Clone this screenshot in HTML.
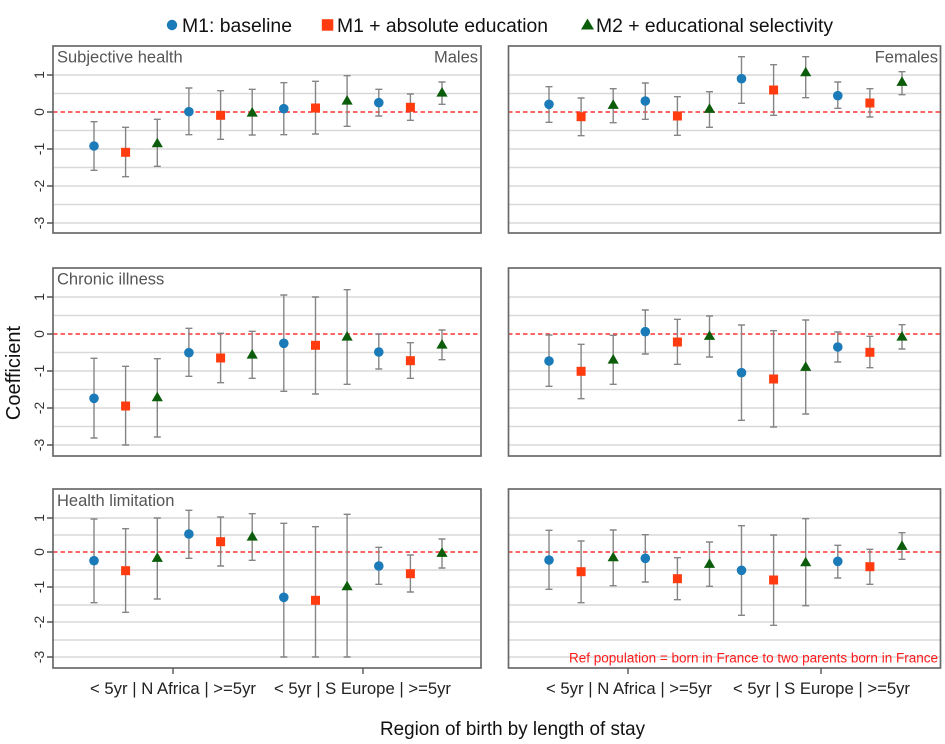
<!DOCTYPE html>
<html><head><meta charset="utf-8"><style>
html,body{margin:0;padding:0;background:#fff;}
svg{display:block;font-family:"Liberation Sans",Arial,sans-serif;}
</style></head><body>
<svg width="945" height="744" viewBox="0 0 945 744" xmlns="http://www.w3.org/2000/svg">
<rect width="945" height="744" fill="#fff"/>

<!-- Legend -->
<circle cx="172" cy="25" r="5.2" fill="#1b7bb8"/>
<text x="182" y="32" font-size="19" fill="#111" textLength="110" lengthAdjust="spacingAndGlyphs">M1: baseline</text>
<rect x="321.8" y="19.2" width="11.5" height="11.5" fill="#ff3b0f"/>
<text x="337" y="32" font-size="19" fill="#111" textLength="211" lengthAdjust="spacingAndGlyphs">M1 + absolute education</text>
<path d="M587.5 18.5l6.5 11h-13z" fill="#0b5d0b"/>
<text x="596" y="32" font-size="19" fill="#111" textLength="237" lengthAdjust="spacingAndGlyphs">M2 + educational selectivity</text>

<!-- Gridlines -->
<g stroke="#d9d9d9" stroke-width="1.4" fill="none">
<path d="M53 75H481M53 93.5H481M53 130.5H481M53 149H481M53 167.5H481M53 186H481M53 204.5H481M53 223H481"/>
<path d="M508 75H941M508 93.5H941M508 130.5H941M508 149H941M508 167.5H941M508 186H941M508 204.5H941M508 223H941"/>
<path d="M53 297H481M53 315.5H481M53 352.5H481M53 371H481M53 389.5H481M53 408H481M53 426.5H481M53 445H481"/>
<path d="M508 297H941M508 315.5H941M508 352.5H941M508 371H941M508 389.5H941M508 408H941M508 426.5H941M508 445H941"/>
<path d="M53 518H481M53 535H481M53 570H481M53 587H481M53 605H481M53 622H481M53 640H481M53 657H481"/>
<path d="M508 518H941M508 535H941M508 570H941M508 587H941M508 605H941M508 622H941M508 640H941M508 657H941"/>
</g>

<!-- Reference lines -->
<g stroke="#ff3333" stroke-width="1.6" stroke-dasharray="4.5,3" fill="none">
<path d="M53 112H481M508 112H941M53 334H481M508 334H941M53 552H481M508 552H941"/>
</g>

<!-- Error bars -->
<g stroke="#858585" stroke-width="1.4" fill="none">
<path d="M94 121.7V170.3M90.5 121.7h7M90.5 170.3h7M125.6 127.3V176.7M122.1 127.3h7M122.1 176.7h7M157.3 119.3V166.3M153.8 119.3h7M153.8 166.3h7M188.9 88V134.7M185.4 88h7M185.4 134.7h7M220.6 90.7V139.3M217.1 90.7h7M217.1 139.3h7M252.2 89.3V135M248.7 89.3h7M248.7 135h7M283.8 82.7V134.7M280.3 82.7h7M280.3 134.7h7M315.5 81.3V134M312 81.3h7M312 134h7M347.1 75.7V126.3M343.6 75.7h7M343.6 126.3h7M378.8 89.3V116M375.3 89.3h7M375.3 116h7M410.4 94V120.3M406.9 94h7M406.9 120.3h7M442 82V104.3M438.5 82h7M438.5 104.3h7"/>
<path d="M549 86.7V122.3M545.5 86.7h7M545.5 122.3h7M581.1 98V135.7M577.6 98h7M577.6 135.7h7M613.2 88.7V122.7M609.7 88.7h7M609.7 122.7h7M645.3 83V119.3M641.8 83h7M641.8 119.3h7M677.4 96.7V135.3M673.9 96.7h7M673.9 135.3h7M709.5 91.7V127.3M706 91.7h7M706 127.3h7M741.5 56.7V103.3M738 56.7h7M738 103.3h7M773.6 64.7V115.3M770.1 64.7h7M770.1 115.3h7M805.7 56.7V97.7M802.2 56.7h7M802.2 97.7h7M837.8 82V108.3M834.3 82h7M834.3 108.3h7M869.9 88.7V117M866.4 88.7h7M866.4 117h7M902 71.7V94.7M898.5 71.7h7M898.5 94.7h7"/>
<path d="M94 358.3V438M90.5 358.3h7M90.5 438h7M125.6 366.3V445M122.1 366.3h7M122.1 445h7M157.3 358.7V437M153.8 358.7h7M153.8 437h7M188.9 328.3V376.3M185.4 328.3h7M185.4 376.3h7M220.6 333.3V382.7M217.1 333.3h7M217.1 382.7h7M252.2 331.3V378.3M248.7 331.3h7M248.7 378.3h7M283.8 295V391.3M280.3 295h7M280.3 391.3h7M315.5 297V394M312 297h7M312 394h7M347.1 289.7V384.3M343.6 289.7h7M343.6 384.3h7M378.8 334V369M375.3 334h7M375.3 369h7M410.4 342.7V378.3M406.9 342.7h7M406.9 378.3h7M442 330V359.7M438.5 330h7M438.5 359.7h7"/>
<path d="M549 335V386.3M545.5 335h7M545.5 386.3h7M581.1 344.3V398.7M577.6 344.3h7M577.6 398.7h7M613.2 335.3V384.3M609.7 335.3h7M609.7 384.3h7M645.3 310V354M641.8 310h7M641.8 354h7M677.4 319.3V364.3M673.9 319.3h7M673.9 364.3h7M709.5 316V357M706 316h7M706 357h7M741.5 325V420.3M738 325h7M738 420.3h7M773.6 330.7V427M770.1 330.7h7M770.1 427h7M805.7 320V414M802.2 320h7M802.2 414h7M837.8 332V362M834.3 332h7M834.3 362h7M869.9 336.3V367.7M866.4 336.3h7M866.4 367.7h7M902 324.7V349M898.5 324.7h7M898.5 349h7"/>
<path d="M94 519V602.7M90.5 519h7M90.5 602.7h7M125.6 528.7V612.3M122.1 528.7h7M122.1 612.3h7M157.3 518V599M153.8 518h7M153.8 599h7M188.9 510.3V558.3M185.4 510.3h7M185.4 558.3h7M220.6 517V566M217.1 517h7M217.1 566h7M252.2 513.7V560.3M248.7 513.7h7M248.7 560.3h7M283.8 523.3V657M280.3 523.3h7M280.3 657h7M315.5 526.7V657M312 526.7h7M312 657h7M347.1 514.3V657M343.6 514.3h7M343.6 657h7M378.8 547.3V584.3M375.3 547.3h7M375.3 584.3h7M410.4 555V592M406.9 555h7M406.9 592h7M442 539V568M438.5 539h7M438.5 568h7"/>
<path d="M549 530.3V589.3M545.5 530.3h7M545.5 589.3h7M581.1 541V602.7M577.6 541h7M577.6 602.7h7M613.2 530V585.7M609.7 530h7M609.7 585.7h7M645.3 534.7V582M641.8 534.7h7M641.8 582h7M677.4 557.7V599.7M673.9 557.7h7M673.9 599.7h7M709.5 542V586.3M706 542h7M706 586.3h7M741.5 525.7V615.3M738 525.7h7M738 615.3h7M773.6 535V625.3M770.1 535h7M770.1 625.3h7M805.7 518.7V605.7M802.2 518.7h7M802.2 605.7h7M837.8 545.3V578M834.3 545.3h7M834.3 578h7M869.9 549.3V584.3M866.4 549.3h7M866.4 584.3h7M902 532.7V559.3M898.5 532.7h7M898.5 559.3h7"/>
</g>

<!-- Blue circles -->
<g fill="#1b7bb8">
<circle cx="94" cy="146" r="4.8"/><circle cx="188.9" cy="111.7" r="4.8"/><circle cx="283.8" cy="108.7" r="4.8"/><circle cx="378.8" cy="102.7" r="4.8"/>
<circle cx="549" cy="104.3" r="4.8"/><circle cx="645.3" cy="101" r="4.8"/><circle cx="741.5" cy="78.7" r="4.8"/><circle cx="837.8" cy="95.7" r="4.8"/>
<circle cx="94" cy="398.3" r="4.8"/><circle cx="188.9" cy="352.7" r="4.8"/><circle cx="283.8" cy="343.3" r="4.8"/><circle cx="378.8" cy="352" r="4.8"/>
<circle cx="549" cy="361" r="4.8"/><circle cx="645.3" cy="331.7" r="4.8"/><circle cx="741.5" cy="372.7" r="4.8"/><circle cx="837.8" cy="347" r="4.8"/>
<circle cx="94" cy="560.7" r="4.8"/><circle cx="188.9" cy="534" r="4.8"/><circle cx="283.8" cy="597.3" r="4.8"/><circle cx="378.8" cy="566" r="4.8"/>
<circle cx="549" cy="560" r="4.8"/><circle cx="645.3" cy="558.3" r="4.8"/><circle cx="741.5" cy="570.3" r="4.8"/><circle cx="837.8" cy="561.3" r="4.8"/>
</g>

<!-- Red squares -->
<g fill="#ff3b0f">
<rect x="121.1" y="147.8" width="9" height="9"/><rect x="216.1" y="110.8" width="9" height="9"/><rect x="311" y="103.5" width="9" height="9"/><rect x="405.9" y="102.8" width="9" height="9"/>
<rect x="576.6" y="112.2" width="9" height="9"/><rect x="672.9" y="111.5" width="9" height="9"/><rect x="769.1" y="85.5" width="9" height="9"/><rect x="865.4" y="98.5" width="9" height="9"/>
<rect x="121.1" y="401.5" width="9" height="9"/><rect x="216.1" y="353.5" width="9" height="9"/><rect x="311" y="340.8" width="9" height="9"/><rect x="405.9" y="356.2" width="9" height="9"/>
<rect x="576.6" y="366.8" width="9" height="9"/><rect x="672.9" y="337.5" width="9" height="9"/><rect x="769.1" y="374.5" width="9" height="9"/><rect x="865.4" y="347.8" width="9" height="9"/>
<rect x="121.1" y="566.2" width="9" height="9"/><rect x="216.1" y="537.2" width="9" height="9"/><rect x="311" y="595.8" width="9" height="9"/><rect x="405.9" y="569.2" width="9" height="9"/>
<rect x="576.6" y="567.2" width="9" height="9"/><rect x="672.9" y="574.2" width="9" height="9"/><rect x="769.1" y="575.5" width="9" height="9"/><rect x="865.4" y="562.2" width="9" height="9"/>
</g>

<!-- Green triangles -->
<g fill="#0b5d0b">
<path d="M157.3 137.7l5.6 9.6h-11.2zM252.2 107l5.6 9.6h-11.2zM347.1 95l5.6 9.6h-11.2zM442 87l5.6 9.6h-11.2z"/>
<path d="M613.2 99.3l5.6 9.6h-11.2zM709.5 103.3l5.6 9.6h-11.2zM805.7 66.7l5.6 9.6h-11.2zM902 76.3l5.6 9.6h-11.2z"/>
<path d="M157.3 391.7l5.6 9.6h-11.2zM252.2 349l5.6 9.6h-11.2zM347.1 331l5.6 9.6h-11.2zM442 339l5.6 9.6h-11.2z"/>
<path d="M613.2 354l5.6 9.6h-11.2zM709.5 330.3l5.6 9.6h-11.2zM805.7 361.3l5.6 9.6h-11.2zM902 331l5.6 9.6h-11.2z"/>
<path d="M157.3 552.3l5.6 9.6h-11.2zM252.2 531l5.6 9.6h-11.2zM347.1 580.7l5.6 9.6h-11.2zM442 547.3l5.6 9.6h-11.2z"/>
<path d="M613.2 551.7l5.6 9.6h-11.2zM709.5 558.3l5.6 9.6h-11.2zM805.7 556.7l5.6 9.6h-11.2zM902 540.3l5.6 9.6h-11.2z"/>
</g>

<!-- Panel borders -->
<g stroke="#6a6a6a" stroke-width="1.7" fill="none">
<rect x="53" y="46" width="428" height="187"/>
<rect x="508.5" y="46" width="432" height="187"/>
<rect x="53" y="268" width="428" height="188"/>
<rect x="508.5" y="268" width="432" height="188"/>
<rect x="53" y="489" width="428" height="179"/>
<rect x="508.5" y="489" width="432" height="179"/>
</g>

<!-- Ticks -->
<g stroke="#555" stroke-width="1.4">
<path d="M47 75H53M47 112H53M47 149H53M47 186H53M47 223H53"/>
<path d="M47 297H53M47 334H53M47 371H53M47 408H53M47 445H53"/>
<path d="M47 518H53M47 552H53M47 587H53M47 622H53M47 657H53"/>
<path d="M173 668V674M363 668V674M628 668V674M821 668V674"/>
</g>

<!-- Y tick labels -->
<g font-size="14" fill="#333" text-anchor="middle">
<text transform="translate(39,75) rotate(-90)" y="5">1</text>
<text transform="translate(39,112) rotate(-90)" y="5">0</text>
<text transform="translate(39,149) rotate(-90)" y="5">-1</text>
<text transform="translate(39,186) rotate(-90)" y="5">-2</text>
<text transform="translate(39,223) rotate(-90)" y="5">-3</text>
<text transform="translate(39,297) rotate(-90)" y="5">1</text>
<text transform="translate(39,334) rotate(-90)" y="5">0</text>
<text transform="translate(39,371) rotate(-90)" y="5">-1</text>
<text transform="translate(39,408) rotate(-90)" y="5">-2</text>
<text transform="translate(39,445) rotate(-90)" y="5">-3</text>
<text transform="translate(39,518) rotate(-90)" y="5">1</text>
<text transform="translate(39,552) rotate(-90)" y="5">0</text>
<text transform="translate(39,587) rotate(-90)" y="5">-1</text>
<text transform="translate(39,622) rotate(-90)" y="5">-2</text>
<text transform="translate(39,657) rotate(-90)" y="5">-3</text>
</g>

<!-- Coefficient -->
<text transform="translate(13,373) rotate(-90)" y="7" font-size="20" fill="#111" text-anchor="middle">Coefficient</text>

<!-- Panel titles -->
<g font-size="16.5" fill="#555">
<text x="57" y="62.5">Subjective health</text>
<text x="478" y="62.5" text-anchor="end">Males</text>
<text x="938" y="62.5" text-anchor="end">Females</text>
<text x="57" y="284.5">Chronic illness</text>
<text x="57" y="506">Health limitation</text>
</g>

<!-- X tick labels -->
<g font-size="16.5" fill="#222" text-anchor="middle">
<text x="173" y="694" textLength="166" lengthAdjust="spacingAndGlyphs">&lt; 5yr | N Africa | &gt;=5yr</text>
<text x="362.5" y="694" textLength="177" lengthAdjust="spacingAndGlyphs">&lt; 5yr | S Europe | &gt;=5yr</text>
<text x="629" y="694" textLength="166" lengthAdjust="spacingAndGlyphs">&lt; 5yr | N Africa | &gt;=5yr</text>
<text x="821.5" y="694" textLength="177" lengthAdjust="spacingAndGlyphs">&lt; 5yr | S Europe | &gt;=5yr</text>
</g>

<!-- Ref population note -->
<text x="938" y="662.5" font-size="13.5" fill="#ff1a1a" text-anchor="end" textLength="369" lengthAdjust="spacingAndGlyphs">Ref population = born in France to two parents born in France</text>

<!-- X axis title -->
<text x="512.5" y="735" font-size="19.5" fill="#111" text-anchor="middle" textLength="265" lengthAdjust="spacingAndGlyphs">Region of birth by length of stay</text>
</svg>
</body></html>
